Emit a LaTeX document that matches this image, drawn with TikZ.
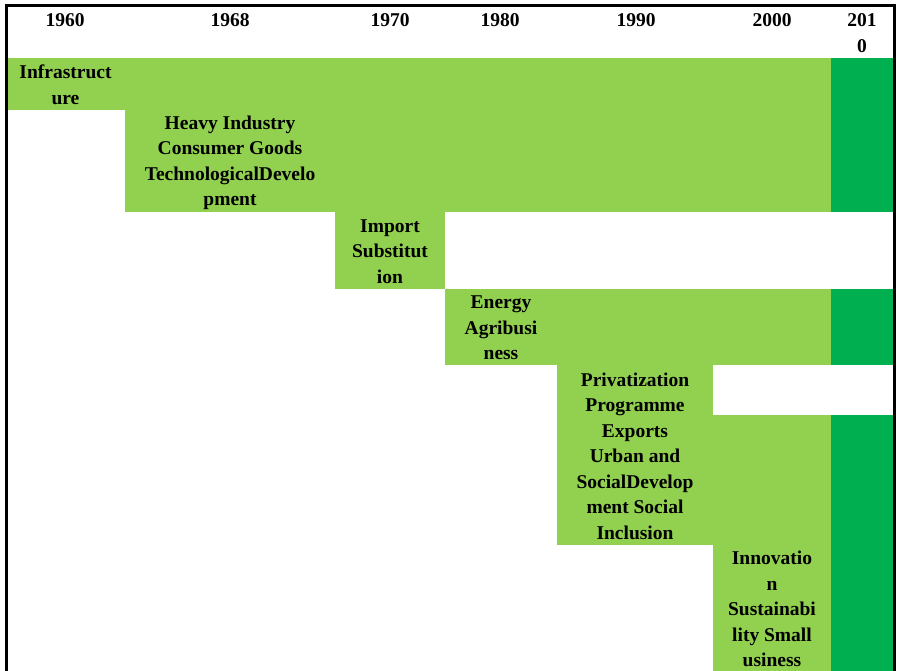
\documentclass[tikz,border=0pt]{standalone}
\usepackage{fontspec}
\setmainfont{Liberation Serif}
\usetikzlibrary{positioning}
\definecolor{lightgreen}{HTML}{92D050}
\definecolor{darkgreen}{HTML}{00B050}

\begin{document}
\begin{tikzpicture}[
        x=1pt, y=-1pt,
        cell/.style={font=\fontsize{19.5}{25.5}\selectfont\bfseries, align=center, inner sep=0pt},
        light/.style={fill=lightgreen},
        dark/.style={fill=darkgreen},
        frame/.style={draw=black, line width=3pt}
        ]
        \useasboundingbox (0,0) rectangle (898,671);

        % Light green periods
        \fill[light] (7,58) rectangle (831,110);
        \fill[light] (125,110) rectangle (831,212);
        \fill[light] (335,212) rectangle (445,289);
        \fill[light] (445,289) rectangle (831,365);
        \fill[light] (557,365) rectangle (713,545);
        \fill[light] (557,415) rectangle (831,545);
        \fill[light] (713,545) rectangle (831,671);

        % 2010 column
        \fill[dark] (831,58) rectangle (894,212);
        \fill[dark] (831,289) rectangle (894,365);
        \fill[dark] (831,415) rectangle (894,671);

        % Frame
        \draw[frame] (6,671) -- (6,6) -- (894.5,6) -- (894.5,671);

        % Years
        \foreach \name/\x/\year in {y1960/65/1960, y1968/230/1968, y1970/390/1970,
            y1980/500/1980, y1990/636/1990, y2000/772/2000} {
            \node[cell] (\name) at (\x,20) {\year};
        }
        \node[cell] (y2010) at (862,33) {201\\0};

        % Periods
        \node[cell] (infra) at (65.5,85) {Infrastruct\\ure};
        \node[cell] (heavy) at (230,163) {Heavy Industry\\Consumer Goods\\TechnologicalDevelo\\pment};
        \node[cell] (import) at (390,251.5) {Import\\Substitut\\ion};
        \node[cell] (energy) at (501,328) {Energy\\Agribusi\\ness};
        \node[cell] (privat) at (635,456) {Privatization\\Programme\\Exports\\Urban and\\SocialDevelop\\ment Social\\Inclusion};
        \node[cell] (innov) at (772,609) {Innovatio\\n\\Sustainabi\\lity Small\\usiness};

    \end{tikzpicture}
\end{document}
